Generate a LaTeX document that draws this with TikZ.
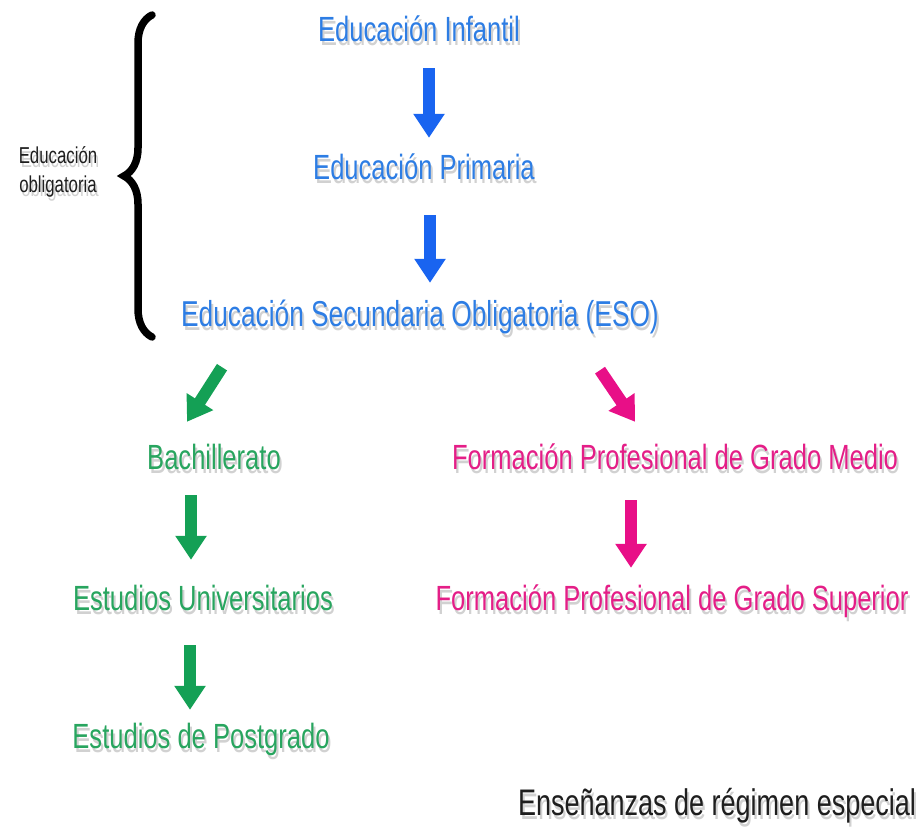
\documentclass[tikz,border=0pt]{standalone}
\usepackage{fontspec}
\setmainfont[FakeStretch=0.73]{Liberation Sans}
\usetikzlibrary{arrows.meta, calc, decorations.pathreplacing}
\definecolor{eduBlue}{RGB}{45,125,228}
\definecolor{eduBlueArrow}{RGB}{25,100,240}
\definecolor{eduGreen}{RGB}{40,165,95}
\definecolor{eduGreenArrow}{RGB}{20,160,85}
\definecolor{eduPink}{RGB}{228,30,135}
\definecolor{eduPinkArrow}{RGB}{232,15,135}
\definecolor{eduBlack}{RGB}{30,30,30}
% gray copy under the text, like the soft drop shadow
\newcommand{\shtxt}[1]{\makebox[0pt][l]{\hspace{2pt}\raisebox{-4pt}{\color{black!18}#1}}#1}

\begin{document}
\begin{tikzpicture}[
    x=1pt, y=-1pt,
    stage/.style={anchor=base, inner sep=0pt, text height=27pt, text depth=7pt, font=\fontsize{35}{40}\selectfont},
    blue_stage/.style={stage, text=eduBlue},
    green_stage/.style={stage, text=eduGreen},
    pink_stage/.style={stage, text=eduPink},
    note/.style={align=center, inner sep=0pt, text=eduBlack, font=\fontsize{23}{29}\selectfont},
    block_arrow/.style={line width=12pt, -{Triangle[length=24pt, width=30pt]}},
    blue_arrow/.style={block_arrow, draw=eduBlueArrow, fill=eduBlueArrow},
    green_arrow/.style={block_arrow, draw=eduGreenArrow, fill=eduGreenArrow},
    pink_arrow/.style={block_arrow, draw=eduPinkArrow, fill=eduPinkArrow},
    brace_style/.style={draw=black, line width=7.5pt, line cap=round, decorate, decoration={brace, amplitude=28pt, aspect=0.5}}
]
\useasboundingbox (0,0) rectangle (922,834);

% Compulsory stages
\node[blue_stage] (inf) at (419, 42) {\shtxt{Educación Infantil}};
\node[blue_stage] (pri) at (424, 180) {\shtxt{Educación Primaria}};
\node[blue_stage, font=\fontsize{36}{40}\selectfont] (eso) at (420, 327) {\shtxt{Educación Secundaria Obligatoria (ESO)}};

% Brace and its label
\coordinate (brace_bot) at (152, 337);
\coordinate (brace_top) at (152, 15);
\draw[brace_style] (brace_bot) -- (brace_top);
\node[note] (oblig) at (58, 174) {\shtxt{Educación}\\\shtxt{obligatoria}};

% Academic branch
\node[green_stage] (bach) at (214, 470) {\shtxt{Bachillerato}};
\node[green_stage] (uni) at (203, 610) {\shtxt{Estudios Universitarios}};
\node[green_stage] (pg) at (201, 748) {\shtxt{Estudios de Postgrado}};

% Vocational branch
\node[pink_stage] (fpm) at (675, 470) {\shtxt{Formación Profesional de Grado Medio}};
\node[pink_stage] (fps) at (672, 610) {\shtxt{Formación Profesional de Grado Superior}};

\node[stage, text=eduBlack, font=\fontsize{37}{42}\selectfont] (esp) at (717, 815) {\shtxt{Enseñanzas de régimen especial}};

% Arrows
\draw[blue_arrow] ($(inf.south)+(10,19)$) -- ($(inf.south |- pri.north)+(10,-15)$);
\draw[blue_arrow] ($(pri.south)+(6,28)$) -- ($(pri.south |- eso.north)+(6,-17)$);
\draw[green_arrow] ($(eso.south)+(-198,33)$) -- ($(bach.north)+(-27,-21)$);
\draw[pink_arrow] ($(eso.south)+(180,36)$) -- ($(fpm.north)+(-40,-21)$);
\draw[green_arrow] ($(bach.south)+(-23,18)$) -- ($(bach.south |- uni.north)+(-23,-23)$);
\draw[green_arrow] ($(uni.south)+(-13,28)$) -- ($(uni.south |- pg.north)+(-13,-11)$);
\draw[pink_arrow] ($(fpm.south)+(-44,23)$) -- ($(fpm.south |- fps.north)+(-44,-15)$);

\end{tikzpicture}
\end{document}
